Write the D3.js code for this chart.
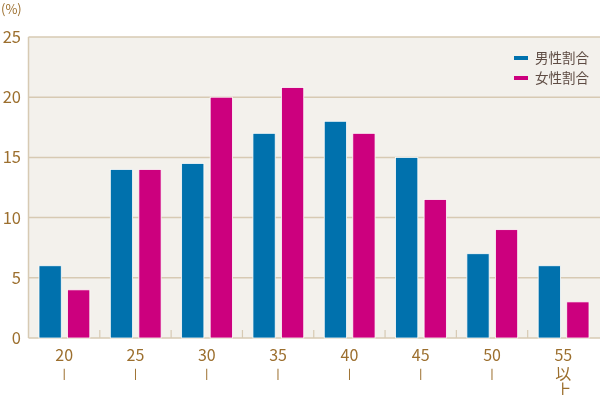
<!DOCTYPE html>
<html>
<head>
<meta charset="utf-8">
<script src="https://cdn.jsdelivr.net/npm/d3@7"></script>
<style>
  body { margin: 0; background: #fff; }
  svg { display: block; font-family: "Noto Sans CJK JP", "Noto Sans", sans-serif; will-change: transform; }
</style>
</head>
<body>
<script>
// 年齢階級
var categories = ["20", "25", "30", "35", "40", "45", "50", "55"];
var catSuffix = [["|"], ["|"], ["|"], ["|"], ["|"], ["|"], ["|"], ["以", "上"]];
var seriesNames = ["男性割合", "女性割合"];
var maleValues = [6, 14, 14.5, 17, 18, 15, 7, 6];
var femaleValues = [4, 14, 20, 20.8, 17, 11.5, 9, 3];
var yTicks = [0, 5, 10, 15, 20, 25];

var width = 600, height = 395;
var plotLeft = 28.5, plotRight = 599, plotTop = 37, plotBottom = 338;
var colors = ["#0071ad", "#cc007e"];
var textColor = "#9c6f2e";
var gridColor = "#d7cab3";

var svg = d3.select("body").append("svg").attr("width", width).attr("height", height);

var x = d3.scaleBand().domain(categories).range([plotLeft, plotRight]);
var x1 = d3.scaleBand().domain(seriesNames)
  .range([10.5, x.bandwidth() - 10]).paddingInner(0.22);
var y = d3.scaleLinear().domain([0, 25]).range([plotBottom, plotTop]);

svg.append("rect")
  .attr("x", plotLeft).attr("y", plotTop)
  .attr("width", width - plotLeft).attr("height", plotBottom - plotTop)
  .attr("fill", "#f3f1ec");

// grid
svg.append("g").selectAll("line").data(yTicks).join("line")
  .attr("x1", plotLeft).attr("x2", width)
  .attr("y1", (d) => y(d)).attr("y2", (d) => y(d))
  .attr("stroke", gridColor).attr("stroke-width", 1.5);

svg.append("line")
  .attr("x1", plotLeft).attr("x2", plotLeft).attr("y1", plotTop).attr("y2", plotBottom)
  .attr("stroke", gridColor).attr("stroke-width", 1.5);

// group separators
svg.append("g").selectAll("line").data(categories.slice(1)).join("line")
  .attr("x1", (d) => x(d)).attr("x2", (d) => x(d))
  .attr("y1", plotBottom).attr("y2", plotBottom - 8)
  .attr("stroke", gridColor).attr("stroke-width", 1.2);

// bars
var rows = categories.map((c, i) => ({ cat: c, vals: [maleValues[i], femaleValues[i]] }));
svg.append("g").selectAll("g").data(rows).join("g")
  .attr("transform", (d) => `translate(${x(d.cat)},0)`)
  .selectAll("rect")
  .data((d) => d.vals.map((v, j) => ({ name: seriesNames[j], v: v, j: j })))
  .join("rect")
  .attr("x", (d) => x1(d.name))
  .attr("width", x1.bandwidth())
  .attr("y", (d) => y(d.v))
  .attr("height", (d) => y(0) - y(d.v))
  .attr("fill", (d) => colors[d.j])
  .attr("stroke", "#fdfcfa").attr("stroke-width", 0.8);

// y labels
svg.append("g").selectAll("text").data(yTicks).join("text")
  .attr("x", 21).attr("y", (d) => y(d))
  .attr("dy", "0.36em")
  .attr("text-anchor", "end")
  .attr("fill", textColor).attr("font-size", 16.5)
  .text((d) => d);

svg.append("text")
  .attr("x", 1).attr("y", 14)
  .attr("fill", textColor).attr("font-size", 13)
  .text("(%)");

// x labels: 縦書きの「〜」「以上」は tspan で積む
var xl = svg.append("g").selectAll("text").data(categories).join("text")
  .attr("transform", (d) => `translate(${x(d) + x.bandwidth() / 2},0)`)
  .attr("text-anchor", "middle")
  .attr("fill", textColor);
xl.append("tspan").attr("x", 0).attr("y", 361).attr("font-size", 16).text((d) => d);
xl.each(function (d, i) {
  var t = d3.select(this);
  catSuffix[i].forEach(function (s, k) {
    if (s === "|") {
      t.append("tspan").attr("x", 0).attr("y", 377)
        .attr("font-size", 10).attr("font-weight", "bold").text(s);
    } else {
      t.append("tspan").attr("x", 0).attr("y", 380 + k * 16)
        .attr("font-size", 16).text(s);
    }
  });
});

// legend
var lg = svg.append("g").selectAll("g").data(seriesNames).join("g")
  .attr("transform", (d, i) => `translate(514,${58 + i * 20})`);
lg.append("rect").attr("x", 0).attr("y", -2).attr("width", 14).attr("height", 4)
  .attr("fill", (d, i) => colors[i]);
lg.append("text").attr("x", 21).attr("dy", "0.36em")
  .attr("fill", "#5e4c43").attr("font-size", 13.5)
  .text((d) => d);
</script>
</body>
</html>
